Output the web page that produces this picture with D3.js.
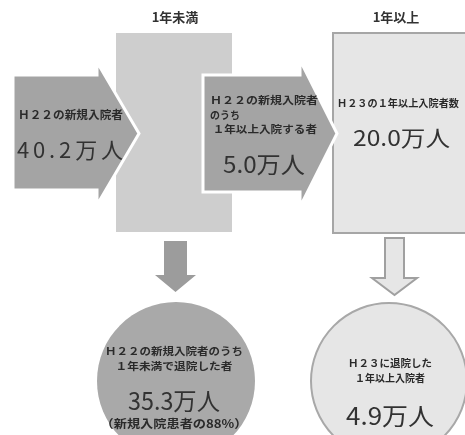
<!DOCTYPE html>
<html>
<head>
<meta charset="utf-8">
<script src="https://cdn.jsdelivr.net/npm/d3@7/dist/d3.min.js"></script>
<style>
  html, body { margin: 0; padding: 0; background: #fff; }
  svg { display: block; }
  text { font-family: "Noto Sans CJK JP", "Noto Sans", sans-serif; }
</style>
</head>
<body>
<svg id="chart" width="465" height="435"></svg>
<script>
// Column headers
const headers = ["1年未満", "1年以上"];

// Inflow arrows (new admissions, and those staying a year or longer)
const inflowLabels = [
  ["Ｈ２２の新規入院者"],
  ["Ｈ２２の新規入院者", "のうち", " １年以上入院する者"]
];
const inflowValues = [40.2, 5.0];

// Long-stay stock
const stockLabels = ["Ｈ２３の１年以上入院者数"];
const stockValues = [20.0];

// Outflow circles (discharges)
const outflowLabels = [
  ["Ｈ２２の新規入院者のうち", "１年未満で退院した者"],
  ["Ｈ２３に退院した", "１年以上入院者"]
];
const outflowValues = [35.3, 4.9];
const outflowNotes = ["（新規入院患者の88%）", ""];

const svg = d3.select("#chart");
const fmt = d3.format(".1f");
const unit = v => fmt(v) + "万人";

// Column centres
const x = d3.scalePoint().domain(headers).range([175, 396]);

// Slight softness of the printed figure
const defs = svg.append("defs");
const flt = defs.append("filter").attr("id", "soft").attr("x", "-5%").attr("y", "-5%").attr("width", "110%").attr("height", "110%");
flt.append("feGaussianBlur").attr("stdDeviation", 0.6);

const g = svg.append("g").attr("filter", "url(#soft)");

// Header labels
g.selectAll("text.hdr").data(headers).join("text")
  .attr("class", "hdr")
  .attr("x", d => x(d)).attr("y", 22)
  .attr("text-anchor", "middle")
  .attr("font-size", 13).attr("font-weight", "bold").attr("fill", "#333")
  .text(d => d);

// Column boxes
const boxes = [
  { key: headers[0], x0: 116, x1: 232, y0: 33, y1: 232, fill: "#cecece", stroke: "none" },
  { key: headers[1], x0: 333, x1: 472, y0: 33, y1: 233, fill: "#e6e6e6", stroke: "#a6a6a6" }
];
g.selectAll("rect.box").data(boxes).join("rect")
  .attr("class", "box")
  .attr("x", d => d.x0).attr("y", d => d.y0)
  .attr("width", d => d.x1 - d.x0).attr("height", d => d.y1 - d.y0)
  .attr("fill", d => d.fill).attr("stroke", d => d.stroke).attr("stroke-width", 2);

// Right-pointing arrow outline
function rightArrow(a) {
  const p = d3.path();
  const ym = (a.hy0 + a.hy1) / 2;
  p.moveTo(a.x0, a.by0);
  p.lineTo(a.neck, a.by0);
  p.lineTo(a.neck, a.hy0);
  p.lineTo(a.tip, ym);
  p.lineTo(a.neck, a.hy1);
  p.lineTo(a.neck, a.by1);
  p.lineTo(a.x0, a.by1);
  p.closePath();
  return p.toString();
}
// Down-pointing arrow outline
function downArrow(a) {
  const p = d3.path();
  const xm = (a.hx0 + a.hx1) / 2;
  p.moveTo(a.sx0, a.y0);
  p.lineTo(a.sx1, a.y0);
  p.lineTo(a.sx1, a.neck);
  p.lineTo(a.hx1, a.neck);
  p.lineTo(xm, a.tip);
  p.lineTo(a.hx0, a.neck);
  p.lineTo(a.sx0, a.neck);
  p.closePath();
  return p.toString();
}

// Multi-line caption as one text block
function caption(sel, lines, o) {
  const t = sel.append("text")
    .attr("x", o.x).attr("y", o.y)
    .attr("text-anchor", o.anchor || "start")
    .attr("font-size", o.size || 10).attr("font-weight", "bold").attr("fill", "#2a2a2a")
    .attr("xml:space", "preserve");
  t.selectAll("tspan").data(lines).join("tspan")
    .attr("x", o.x)
    .attr("dy", (s, j) => j === 0 ? 0 : o.dy)
    .attr("textLength", (s, j) => o.lens && o.lens[j] ? o.lens[j] : null)
    .attr("lengthAdjust", "spacingAndGlyphs")
    .text(s => s);
  return t;
}

const inflowShapes = [
  { x0: 13, neck: 97, tip: 139, by0: 75, by1: 190, hy0: 62, hy1: 205 },
  { x0: 203, neck: 300, tip: 337, by0: 75, by1: 192, hy0: 60, hy1: 207 }
];
const inflows = inflowValues.map((v, i) => ({ value: v, lines: inflowLabels[i], shape: inflowShapes[i] }));

g.selectAll("path.inflow").data(inflows).join("path")
  .attr("class", "inflow")
  .attr("d", d => rightArrow(d.shape))
  .attr("fill", "#a4a4a4").attr("stroke", "#fff").attr("stroke-width", 3)
  .attr("stroke-linejoin", "miter");

// Inflow captions
const inflowText = [
  { x: 18, y: 119, dy: 14.5, size: 11, lens: [105], vx: 17, vy: 158, vlen: 106, vsize: 22 },
  { x: 210, y: 104, dy: 14.5, size: 10, lens: [108, null, 107], vx: 223, vy: 173, vlen: 82, vsize: 23 }
];
inflows.forEach((d, i) => {
  const t = inflowText[i];
  caption(g, d.lines, { x: t.x, y: t.y, dy: t.dy, lens: t.lens, size: t.size });
  g.append("text")
    .attr("x", t.vx).attr("y", t.vy)
    .attr("font-size", t.vsize).attr("fill", "#333")
    .attr("textLength", t.vlen).attr("lengthAdjust", i === 0 ? "spacing" : "spacingAndGlyphs")
    .text(unit(d.value));
});

// Stock caption and value
caption(g, stockLabels, { x: 337, y: 107, dy: 12, lens: [122], size: 10 });
g.append("text")
  .attr("x", 353).attr("y", 146)
  .attr("font-size", 22).attr("fill", "#333")
  .attr("textLength", 97).attr("lengthAdjust", "spacingAndGlyphs")
  .text(unit(stockValues[0]));

// Down arrows
const downShapes = [
  { sx0: 164, sx1: 187, y0: 241, neck: 275, hx0: 155, hx1: 196, tip: 292, fill: "#9c9c9c", stroke: "none" },
  { sx0: 385, sx1: 404, y0: 238, neck: 278, hx0: 372, hx1: 417, tip: 295, fill: "#e6e6e6", stroke: "#a0a0a0" }
];
g.selectAll("path.down").data(downShapes).join("path")
  .attr("class", "down")
  .attr("d", d => downArrow(d))
  .attr("fill", d => d.fill).attr("stroke", d => d.stroke).attr("stroke-width", 2);

// Outflow circles
const circleShapes = [
  { cx: 176, cy: 381, r: 79, fill: "#a9a9a9", stroke: "none" },
  { cx: 389, cy: 381, r: 78, fill: "#e6e6e6", stroke: "#a8a8a8" }
];
const outflows = outflowValues.map((v, i) => ({ value: v, lines: outflowLabels[i], note: outflowNotes[i], shape: circleShapes[i] }));

g.selectAll("circle.out").data(outflows).join("circle")
  .attr("class", "out")
  .attr("cx", d => d.shape.cx).attr("cy", d => d.shape.cy).attr("r", d => d.shape.r)
  .attr("fill", d => d.shape.fill).attr("stroke", d => d.shape.stroke).attr("stroke-width", 2);

const outText = [
  { cx: 174, y0: 355, dy: 14.5, lens: [138, 117], vy: 410, vlen: 92, vsize: 24, ny: 428, nlen: 147 },
  { cx: 390, y0: 367, dy: 14.5, lens: [84, 70], vy: 425, vlen: 88, vsize: 24 }
];
outflows.forEach((d, i) => {
  const t = outText[i];
  caption(g, d.lines, { x: t.cx, y: t.y0, dy: t.dy, lens: t.lens, anchor: "middle" });
  g.append("text")
    .attr("x", t.cx).attr("y", t.vy)
    .attr("text-anchor", "middle")
    .attr("font-size", t.vsize).attr("fill", "#333")
    .attr("textLength", t.vlen).attr("lengthAdjust", "spacingAndGlyphs")
    .text(unit(d.value));
  if (d.note) {
    g.append("text")
      .attr("x", t.cx).attr("y", t.ny)
      .attr("text-anchor", "middle")
      .attr("font-size", 11.5).attr("font-weight", "bold").attr("fill", "#2a2a2a")
      .attr("textLength", t.nlen).attr("lengthAdjust", "spacingAndGlyphs")
      .text(d.note);
  }
});
</script>
</body>
</html>
